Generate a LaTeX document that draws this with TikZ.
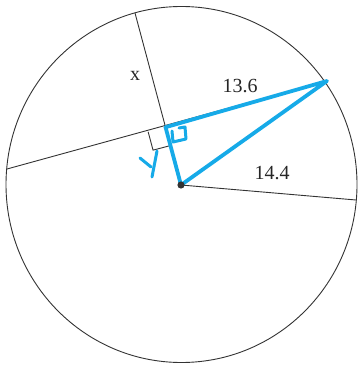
\documentclass[tikz,border=0pt]{standalone}
\usepackage{fontspec}
\setmainfont{Liberation Serif}
\usetikzlibrary{calc}
\definecolor{hl}{RGB}{22,170,232}
\tikzset{
  thin line/.style={draw=black!80, line width=0.9pt},
  blue line/.style={draw=hl, line width=3.8pt, line cap=round, line join=round},
  blue pen/.style={draw=hl, line width=3pt, line cap=round, line join=round},
  lbl/.style={font=\fontsize{20}{20}\selectfont, text=black!85, inner sep=0pt}
}
\begin{document}
\begin{tikzpicture}[x=1pt,y=-1pt]
\useasboundingbox (0,0) rectangle (358,366);
% points
\coordinate (C) at (181.5,184.5);
\coordinate (O) at (181,185);
\coordinate (T) at (135,13);
\coordinate (L) at (7,169);
\coordinate (R) at (327,81);
\coordinate (P) at (356,200);
\path (T) -- (O) coordinate[pos=0.664] (F);
% circle
\draw[thin line] (C) ellipse [x radius=175.5, y radius=178];
% chord, perpendicular, radius
\draw[thin line] (L) -- (R);
\draw[thin line] (T) -- (O);
\draw[thin line] (O) -- (P);
% right-angle square
\coordinate (Sa) at ($(F)!18pt!(L)$);
\coordinate (Sb) at ($(F)!19pt!(O)$);
\draw[thin line] (Sa) -- ($(Sa)+(Sb)-(F)$) -- (Sb);
% blue highlights
\draw[blue line] (F) -- (R) -- (O);
\draw[blue line] (F) -- (O);
\draw[blue pen] (172,131) -- (173,142) -- (186,139) -- (185,127) -- (179,128);
% handwritten Y
\coordinate (Ya) at (157,151);
\coordinate (Yb) at (152,177);
\coordinate (Yc) at (140,158);
\coordinate (Yd) at (151,167);
\draw[blue pen] (Ya) -- (Yb);
\draw[blue pen] (Yc) -- (Yd);
% center dot
\fill[black!80] (O) circle (3.6);
% labels
\node[lbl] (lx) at (135,76) {x};
\node[lbl] (l136) at (240,86) {13.6};
\node[lbl] (l144) at (272,173) {14.4};
\end{tikzpicture}
\end{document}
